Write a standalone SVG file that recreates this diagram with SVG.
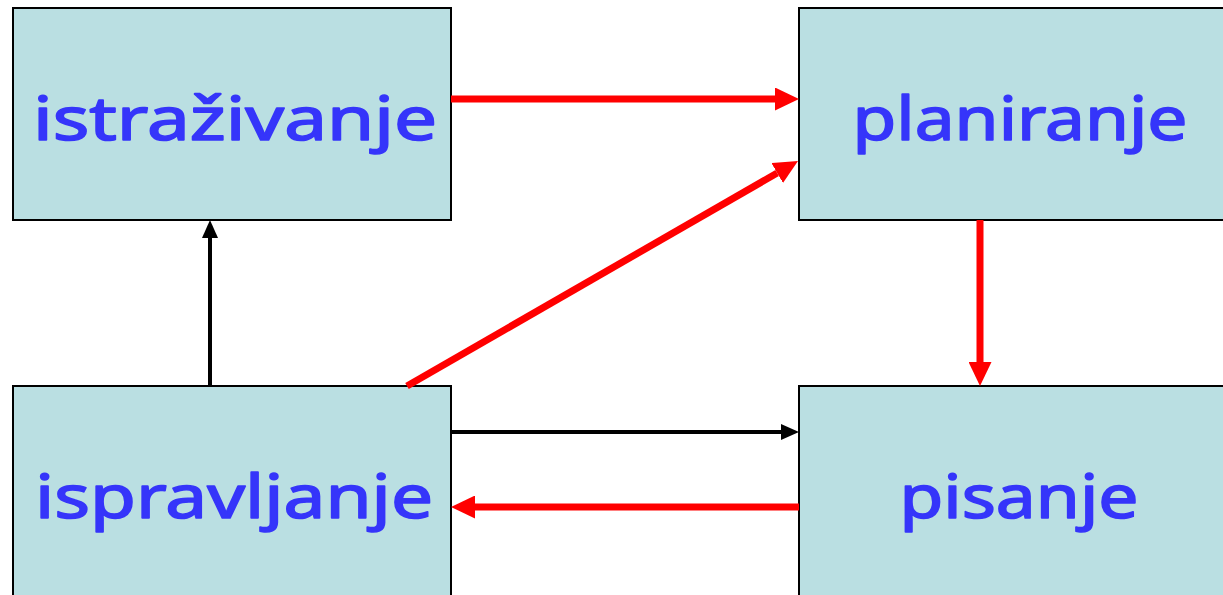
<svg xmlns="http://www.w3.org/2000/svg" width="1223" height="595" viewBox="0 0 1223 595">
<style>
.box{fill:#BADFE2;stroke:#000;stroke-width:2}
.lbl{font-family:"Comic Sans MS","Noto Sans","DejaVu Sans",sans-serif;font-size:60px;fill:#3535FA;stroke:#3535FA;stroke-width:1.6;stroke-linejoin:round;text-anchor:middle}
.red{stroke:#FF0000;stroke-width:7;fill:none}
.blk{stroke:#000;stroke-width:4;fill:none}
</style>
<defs>
<marker id="ar" markerUnits="userSpaceOnUse" markerWidth="24" markerHeight="23" refX="0" refY="11.5" orient="auto"><path d="M0,0 L24,11.5 L0,23 z" fill="#FF0000"/></marker>
<marker id="ab" markerUnits="userSpaceOnUse" markerWidth="18" markerHeight="16" refX="0" refY="8" orient="auto"><path d="M0,0 L18,8 L0,16 z" fill="#000"/></marker>
</defs>
<rect width="1223" height="595" fill="#fff"/>
<g id="istrazivanje"><rect class="box" x="13" y="8" width="438" height="212"/><text class="lbl" x="235" y="140" textLength="404" lengthAdjust="spacingAndGlyphs">istraživanje</text></g>
<g id="planiranje"><rect class="box" x="799" y="8" width="460" height="212"/><text class="lbl" x="1020" y="140" textLength="335" lengthAdjust="spacingAndGlyphs">planiranje</text></g>
<g id="ispravljanje"><rect class="box" x="13" y="386" width="438" height="250"/><text class="lbl" x="234" y="518" textLength="398" lengthAdjust="spacingAndGlyphs">ispravljanje</text></g>
<g id="pisanje"><rect class="box" x="799" y="386" width="460" height="250"/><text class="lbl" x="1019" y="518" textLength="239" lengthAdjust="spacingAndGlyphs">pisanje</text></g>
<g id="connectors">
<line class="red" x1="451" y1="99" x2="775" y2="99" marker-end="url(#ar)"/>
<line class="red" x1="407" y1="386" x2="777.2" y2="173" marker-end="url(#ar)"/>
<line class="red" x1="980" y1="220" x2="980" y2="362" marker-end="url(#ar)"/>
<line class="red" x1="799" y1="507" x2="475" y2="507" marker-end="url(#ar)"/>
<line class="blk" x1="210" y1="386" x2="210" y2="238" marker-end="url(#ab)"/>
<line class="blk" x1="451" y1="432" x2="781" y2="432" marker-end="url(#ab)"/>
</g>
</svg>
